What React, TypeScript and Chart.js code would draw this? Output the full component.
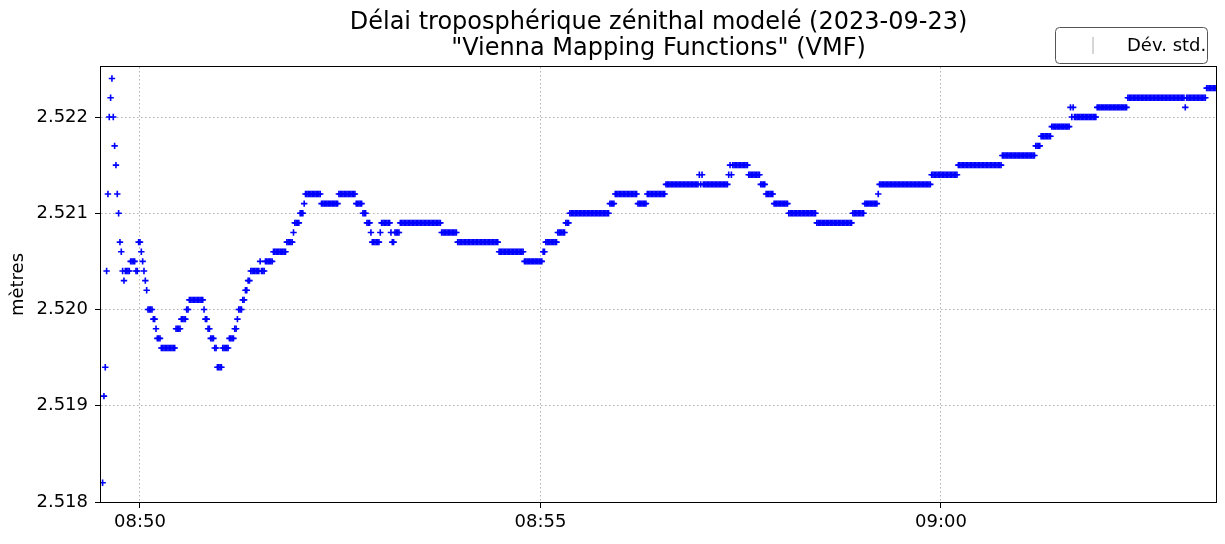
import React, { useEffect, useRef } from "react";
import { Chart, registerables } from "chart.js";

Chart.register(...registerables);

// ---------- texts ----------
const TITLE_LINES = [
  "Délai troposphérique zénithal modelé (2023-09-23)",
  '"Vienna Mapping Functions" (VMF)',
];
const Y_LABEL = "mètres";
const LEGEND_LABEL = "Dév. std.";

// ---------- axes ----------
const START_TIME = "08:49:32"; // first sample (1 s sampling)
const X_MIN_TIME = "08:49:30.8";
const X_MAX_TIME = "09:03:26";
const X_TICK_TIMES = ["08:50", "08:55", "09:00"];
const Y_MIN = 2.518;
const Y_MAX = 2.52252;
const Y_TICKS = [2.518, 2.519, 2.52, 2.521, 2.522];

// ---------- data (run-length encoded, 1 value per second) ----------
const runValues = [
  2.5182, 2.5191, 2.5194, 2.5204, 2.5212, 2.522, 2.5222, 2.5224, 2.522, 2.5217,
  2.5215, 2.5212, 2.521, 2.5207, 2.5206, 2.5204, 2.5203, 2.5204, 2.5205, 2.5204,
  2.5207, 2.5206, 2.5205, 2.5204, 2.5203, 2.5202, 2.52, 2.5199, 2.5198, 2.5197,
  2.5196, 2.5198, 2.5199, 2.52, 2.5201, 2.52, 2.5199, 2.5198, 2.5197, 2.5196,
  2.5194, 2.5196, 2.5197, 2.5198, 2.5199, 2.52, 2.5201, 2.5202, 2.5203, 2.5204,
  2.5205, 2.5204, 2.5205, 2.5206, 2.5207, 2.5208, 2.5209, 2.521, 2.5211, 2.5212,
  2.5211, 2.5212, 2.5211, 2.521, 2.5209, 2.5208, 2.5207, 2.5208, 2.5209, 2.5208,
  2.5207, 2.5208, 2.5209, 2.5208, 2.5207, 2.5206, 2.5205, 2.5206, 2.5207, 2.5208,
  2.5209, 2.521, 2.5211, 2.5212, 2.5211, 2.5212, 2.5213, 2.5214, 2.5213, 2.5214,
  2.5213, 2.5214, 2.5215, 2.5214, 2.5215, 2.5214, 2.5213, 2.5212, 2.5211, 2.521,
  2.5209, 2.521, 2.5211, 2.5212, 2.5213, 2.5214, 2.5215, 2.5216, 2.5217, 2.5218,
  2.5219, 2.5221, 2.522, 2.5221, 2.522, 2.5221, 2.5222, 2.5221, 2.5222, 2.5223,
];
const runLengths = [
  1, 1, 1, 1, 1, 1, 1, 1, 1, 1,
  1, 1, 1, 1, 1, 1, 1, 4, 4, 2,
  2, 1, 1, 1, 1, 1, 4, 2, 1, 3,
  11, 4, 4, 2, 11, 1, 2, 2, 3, 2,
  4, 5, 4, 2, 1, 3, 2, 2, 2, 7,
  1, 3, 6, 10, 5, 1, 4, 3, 1, 12,
  13, 13, 5, 3, 3, 1, 6, 1, 7, 1,
  2, 4, 31, 12, 31, 19, 14, 2, 9, 6,
  3, 30, 4, 17, 7, 14, 25, 1, 1, 1,
  19, 1, 1, 1, 12, 9, 4, 6, 11, 21,
  27, 9, 10, 1, 39, 20, 33, 25, 4, 8,
  14, 1, 1, 1, 17, 23, 43, 1, 15, 8,
];

const FONT = '"DejaVu Sans", "Liberation Sans", sans-serif';

function toSeconds(t: string): number {
  const p = t.split(":").map(Number);
  return p[0] * 3600 + p[1] * 60 + (p[2] || 0);
}
function fmtTime(s: number): string {
  const h = Math.floor(s / 3600);
  const m = Math.round((s - h * 3600) / 60);
  return String(h).padStart(2, "0") + ":" + String(m).padStart(2, "0");
}

function buildPoints() {
  const pts: { x: number; y: number }[] = [];
  let t = toSeconds(START_TIME);
  for (let k = 0; k < runValues.length; k++) {
    for (let j = 0; j < runLengths[k]; j++) {
      pts.push({ x: t, y: runValues[k] });
      t += 1;
    }
  }
  return pts;
}

const decorPlugin = {
  id: "decor",
  afterDatasetsDraw(chart: any) {
    const { ctx, chartArea } = chart;
    const { left, right, top, bottom } = chartArea;
    ctx.save();
    ctx.strokeStyle = "#000";
    ctx.lineWidth = 1;
    ctx.strokeRect(Math.round(left) - 0.5, Math.round(top) - 0.5, Math.round(right - left) + 1, Math.round(bottom - top) + 1);
    ctx.restore();
  },
  afterDraw(chart: any) {
    const { ctx, chartArea } = chart;
    const { left, right, top, bottom } = chartArea;
    ctx.save();
    // title
    ctx.fillStyle = "#000";
    ctx.font = `24px ${FONT}`;
    ctx.textAlign = "center";
    ctx.textBaseline = "middle";
    const cx = (left + right) / 2;
    ctx.fillText(TITLE_LINES[0], cx, 23);
    ctx.fillText(TITLE_LINES[1], cx, 49);
    // y label
    ctx.save();
    ctx.translate(18, (top + bottom) / 2);
    ctx.rotate(-Math.PI / 2);
    ctx.font = `18px ${FONT}`;
    ctx.fillText(Y_LABEL, 0, 0);
    ctx.restore();
    // legend
    const lx = 1055.5, ly = 27.5, lw = 152, lh = 36;
    ctx.beginPath();
    (ctx as any).roundRect(lx, ly, lw, lh, 4);
    ctx.fillStyle = "rgba(255,255,255,0.85)";
    ctx.fill();
    ctx.strokeStyle = "#555";
    ctx.lineWidth = 1;
    ctx.stroke();
    ctx.beginPath();
    ctx.strokeStyle = "#c8c8c8";
    ctx.lineWidth = 1.5;
    ctx.moveTo(1093, 37);
    ctx.lineTo(1093, 54);
    ctx.stroke();
    ctx.fillStyle = "#000";
    ctx.font = `18px ${FONT}`;
    ctx.textAlign = "left";
    ctx.textBaseline = "middle";
    ctx.fillText(LEGEND_LABEL, 1127, 46);
    ctx.restore();
  },
};

export default function App() {
  const ref = useRef<HTMLCanvasElement | null>(null);
  useEffect(() => {
    if (!ref.current) return;
    const xTicks = X_TICK_TIMES.map(toSeconds);
    const chart = new Chart(ref.current, {
      type: "scatter",
      data: {
        datasets: [
          {
            data: buildPoints(),
            showLine: false,
            pointStyle: "cross",
            pointRadius: 3.2,
            pointHoverRadius: 3.2,
            pointBorderWidth: 1.6,
            pointBorderColor: "#0000ff",
            pointBackgroundColor: "#0000ff",
            borderColor: "#0000ff",
            backgroundColor: "#0000ff",
            clip: 0,
          } as any,
        ],
      },
      options: {
        animation: false,
        responsive: false,
        events: [],
        layout: { padding: { top: 67, right: 9, left: 0, bottom: 0 } },
        plugins: {
          legend: { display: false },
          title: { display: false },
          tooltip: { enabled: false },
        },
        scales: {
          x: {
            type: "linear",
            min: toSeconds(X_MIN_TIME),
            max: toSeconds(X_MAX_TIME),
            afterBuildTicks: (s: any) => {
              s.ticks = xTicks.map((v) => ({ value: v }));
            },
            afterFit: (s: any) => {
              s.height = 42;
            },
            ticks: {
              callback: (v: any) => fmtTime(Number(v)),
              font: { family: FONT, size: 18 },
              color: "#000",
              padding: 4,
              maxRotation: 0,
              autoSkip: false,
            },
            grid: {
              color: "#b0b0b0",
              lineWidth: 1,
              tickLength: 6,
              tickColor: "#000",
              tickWidth: 1,
              tickBorderDash: [],
            },
            border: { display: false, dash: [1.5, 2.5] },
          },
          y: {
            type: "linear",
            min: Y_MIN,
            max: Y_MAX,
            afterBuildTicks: (s: any) => {
              s.ticks = Y_TICKS.map((v) => ({ value: v }));
            },
            afterFit: (s: any) => {
              s.width = 101;
            },
            ticks: {
              callback: (v: any) => Number(v).toFixed(3),
              font: { family: FONT, size: 18 },
              color: "#000",
              padding: 7,
              autoSkip: false,
            },
            grid: {
              color: "#b0b0b0",
              lineWidth: 1,
              tickLength: 6,
              tickColor: "#000",
              tickWidth: 1,
              tickBorderDash: [],
            },
            border: { display: false, dash: [1.5, 2.5] },
          },
        },
      },
      plugins: [decorPlugin],
    });
    return () => chart.destroy();
  }, []);
  return (
    <div style={{ position: "absolute", left: 0, top: 0, width: 1225, height: 544, background: "#fff" }}>
      <canvas ref={ref} width={1225} height={544} style={{ display: "block" }} />
    </div>
  );
}
